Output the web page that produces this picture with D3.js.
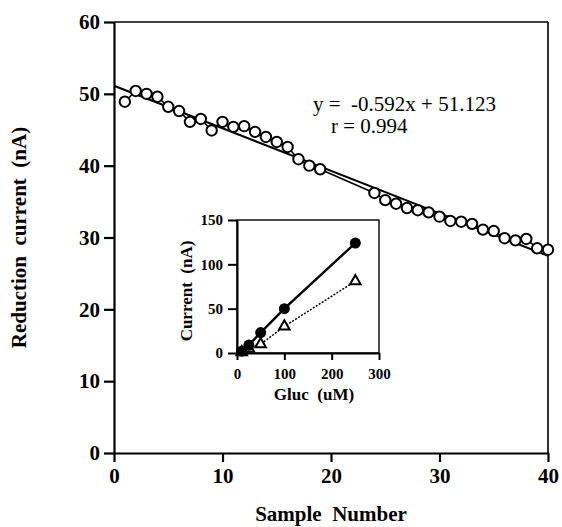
<!DOCTYPE html>
<html>
<head>
<meta charset="utf-8">
<script src="https://cdn.jsdelivr.net/npm/d3@7"></script>
<style>
  body { margin: 0; background: #fff; }
  text { font-family: "Liberation Serif", "Times New Roman", serif; fill: #000; }
</style>
</head>
<body>
<script>
// main series: sample number vs reduction current (nA)
var sampleNo = [1, 2, 3, 4, 5, 6, 7, 8, 9, 10, 11, 12, 13, 14, 15, 16, 17, 18, 19,
                24, 25, 26, 27, 28, 29, 30, 31, 32, 33, 34, 35, 36, 37, 38, 39, 40];
var current = [48.9, 50.4, 50.0, 49.6, 48.2, 47.6, 46.1, 46.5, 44.9, 46.1, 45.4, 45.5, 44.7, 44.0, 43.3, 42.6, 40.9, 40.0, 39.5,
               36.2, 35.2, 34.7, 34.1, 33.8, 33.5, 32.9, 32.3, 32.2, 31.9, 31.1, 30.9, 29.9, 29.6, 29.8, 28.5, 28.3];
var slope = -0.592, intercept = 51.123;
var eqText = "y =  -0.592x + 51.123";
var rText = "r = 0.994";
var xTicks = [0, 10, 20, 30, 40];
var yTicks = [0, 10, 20, 30, 40, 50, 60];

// inset: glucose (uM) vs current (nA)
var gluc = [10, 25, 50, 100, 250];
var currFilled = [2, 9, 23, 50, 124];
var currOpen = [1, 5, 10, 30, 81];
var insetXTicks = [0, 100, 200, 300];
var insetYTicks = [0, 50, 100, 150];

var W = 562, H = 527;
var svg = d3.select("body").append("svg")
    .attr("width", W)
    .attr("height", H);

// main plot scales
var x = d3.scaleLinear().domain([0, 40]).range([114, 548]);
var y = d3.scaleLinear().domain([0, 60]).range([453, 22]);

// frame top and right
svg.append("line").attr("x1", 114).attr("x2", 548).attr("y1", y(60)).attr("y2", y(60))
    .attr("stroke", "#000").attr("stroke-width", 1.6);
svg.append("line").attr("x1", 548).attr("x2", 548).attr("y1", y(60)).attr("y2", y(0))
    .attr("stroke", "#000").attr("stroke-width", 1.6);

var xAxis = svg.append("g")
    .attr("transform", "translate(0," + y(0) + ")")
    .call(d3.axisBottom(x).tickValues(xTicks).tickSize(9).tickPadding(6).tickSizeOuter(0));
var yAxis = svg.append("g")
    .attr("transform", "translate(" + x(0) + ",0)")
    .call(d3.axisLeft(y).tickValues(yTicks).tickSize(10).tickPadding(4).tickSizeOuter(0));

[xAxis, yAxis].forEach(function(g) {
  g.select(".domain").attr("stroke-width", 2.2);
  g.selectAll(".tick line").attr("stroke-width", 2.2);
  g.selectAll(".tick text")
      .style("font-family", "'Liberation Serif', serif")
      .style("font-weight", "bold")
      .style("font-size", "21px");
});

// axis titles
svg.append("text")
    .attr("x", (x(0) + x(40)) / 2)
    .attr("y", 521)
    .attr("text-anchor", "middle")
    .attr("xml:space", "preserve")
    .style("font-weight", "bold")
    .style("font-size", "21px")
    .text("Sample  Number");

svg.append("text")
    .attr("transform", "translate(26," + ((y(0) + y(60)) / 2) + ") rotate(-90)")
    .attr("text-anchor", "middle")
    .attr("xml:space", "preserve")
    .style("font-weight", "bold")
    .style("font-size", "21px")
    .text("Reduction  current  (nA)");

// regression line
svg.append("line")
    .attr("x1", x(0)).attr("y1", y(intercept))
    .attr("x2", x(40)).attr("y2", y(intercept + slope * 40))
    .attr("stroke", "#000").attr("stroke-width", 2);

// line through data points
var pts = sampleNo.map(function(d, i) { return [d, current[i]]; });
svg.append("path")
    .datum(pts)
    .attr("fill", "none")
    .attr("stroke", "#000")
    .attr("stroke-width", 1.6)
    .attr("d", d3.line().x(function(d) { return x(d[0]); }).y(function(d) { return y(d[1]); }));

svg.selectAll(".dot")
    .data(pts)
    .enter().append("circle")
    .attr("class", "dot")
    .attr("cx", function(d) { return x(d[0]); })
    .attr("cy", function(d) { return y(d[1]); })
    .attr("r", 5.2)
    .attr("fill", "#fff")
    .attr("stroke", "#000")
    .attr("stroke-width", 2);

// equation
svg.append("text")
    .attr("x", 313).attr("y", 111)
    .attr("xml:space", "preserve")
    .style("font-size", "21px")
    .text(eqText);
svg.append("text")
    .attr("x", 331).attr("y", 133)
    .style("font-size", "21px")
    .text(rText);

// ---- inset ----
var ix = d3.scaleLinear().domain([0, 300]).range([237, 379]);
var iy = d3.scaleLinear().domain([0, 150]).range([353, 220]);

var inset = svg.append("g");
inset.append("rect")
    .attr("x", ix(0)).attr("y", iy(150))
    .attr("width", ix(300) - ix(0)).attr("height", iy(0) - iy(150))
    .attr("fill", "#fff").attr("stroke", "#000").attr("stroke-width", 1.4);

var ixAxis = inset.append("g")
    .attr("transform", "translate(0," + iy(0) + ")")
    .call(d3.axisBottom(ix).tickValues(insetXTicks).tickSize(7).tickPadding(8).tickSizeOuter(0));
var iyAxis = inset.append("g")
    .attr("transform", "translate(" + ix(0) + ",0)")
    .call(d3.axisLeft(iy).tickValues(insetYTicks).tickSize(9).tickPadding(5).tickSizeOuter(0));

[ixAxis, iyAxis].forEach(function(g) {
  g.select(".domain").attr("stroke-width", 2);
  g.selectAll(".tick line").attr("stroke-width", 2);
  g.selectAll(".tick text")
      .style("font-family", "'Liberation Serif', serif")
      .style("font-weight", "bold")
      .style("font-size", "15px");
});

inset.append("text")
    .attr("x", 314).attr("y", 400)
    .attr("text-anchor", "middle")
    .attr("xml:space", "preserve")
    .style("font-weight", "bold")
    .style("font-size", "17px")
    .text("Gluc  (uM)");

inset.append("text")
    .attr("transform", "translate(192,291) rotate(-90)")
    .attr("text-anchor", "middle")
    .attr("xml:space", "preserve")
    .style("font-weight", "bold")
    .style("font-size", "17px")
    .text("Current  (nA)");

var filledPts = gluc.map(function(d, i) { return [d, currFilled[i]]; });
var openPts = gluc.map(function(d, i) { return [d, currOpen[i]]; });
var iline = d3.line().x(function(d) { return ix(d[0]); }).y(function(d) { return iy(d[1]); });

inset.append("path").datum(openPts)
    .attr("fill", "none").attr("stroke", "#000")
    .attr("stroke-width", 1.5).attr("stroke-dasharray", "2,1.5")
    .attr("d", iline);

inset.append("path").datum(filledPts)
    .attr("fill", "none").attr("stroke", "#000")
    .attr("stroke-width", 2.4)
    .attr("d", iline);

inset.selectAll(".tri")
    .data(openPts)
    .enter().append("path")
    .attr("class", "tri")
    .attr("transform", function(d) { return "translate(" + ix(d[0]) + "," + iy(d[1]) + ")"; })
    .attr("d", d3.symbol().type(d3.symbolTriangle).size(48))
    .attr("fill", "#fff")
    .attr("stroke", "#000")
    .attr("stroke-width", 2);

inset.selectAll(".fdot")
    .data(filledPts)
    .enter().append("circle")
    .attr("class", "fdot")
    .attr("cx", function(d) { return ix(d[0]); })
    .attr("cy", function(d) { return iy(d[1]); })
    .attr("r", 5.5)
    .attr("fill", "#000");
</script>
</body>
</html>
